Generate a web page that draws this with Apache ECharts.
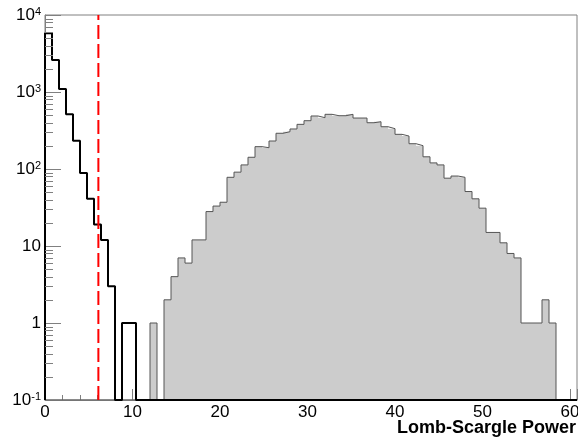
<!DOCTYPE html>
<html><head><meta charset="utf-8">
<script src="https://cdn.jsdelivr.net/npm/echarts@6/dist/echarts.min.js"></script>
<style>html,body{margin:0;padding:0;background:#fff}#c{width:578px;height:438px}</style>
</head><body><div id="c"></div>
<script>
// ---- data ----
const binWidth = 0.8;
const nBins = 76;
const xRange = [0, 60.8];
const yRange = [0.1, 10000];
// noise (black) histogram: bins 0..12, remaining bins empty
const noiseCounts = [5800, 2600, 1090, 513, 233, 89, 41, 19, 12, 3, 0, 1, 1];
// signal (grey) histogram: bins 0..72
const signalCounts = [0,0,0,0,0,0,0,0,0,0,0,0,0,0,0, 1, 0,
  2,4,7,6,12,12,28,33,37,78,
  91,113,142,195,189,231,291,305,331,380,
  424,488,464,513,492,492,513,459,459,399,
  411,354,334,282,268,213,201,144,120,113,
  76,81,78,51,41,31,15,15,11,8,
  7,1,1,1,2,1];
const thresholdX = 6.1;
const xTickValues = [0, 10, 20, 30, 40, 50, 60];
const xTickLabels = ['0', '10', '20', '30', '40', '50', '60'];
const yTickValues = [0.1, 1, 10, 100, 1000, 10000];
const yTickLabels = ['10{s|-1}', '1', '10', '10{s|2}', '10{s|3}', '10{s|4}'];
const yMinorMultipliers = [2, 3, 4, 5, 6, 7, 8, 9];
const xTitle = 'Lomb-Scargle Power';

// ---- helpers ----
const floorV = yRange[0];
function edge(i) { return +(i * binWidth).toFixed(4); }
function stepPoints(counts, n) {
  const pts = [[edge(0), floorV]];
  for (let i = 0; i < n; i++) {
    const c = counts[i] || 0;
    pts.push([edge(i), c > 0 ? c : floorV]);
  }
  pts.push([edge(n), floorV]);
  return pts;
}
const minorTickData = [];
for (let e = -1; e < 4; e++) {
  yMinorMultipliers.forEach(m => minorTickData.push([xRange[0], +(m * Math.pow(10, e)).toPrecision(6)]));
}

const FONT = '"Liberation Sans", Arial, Helvetica, sans-serif';
const AXC = '#808080';

const chart = echarts.init(document.getElementById('c'), null, {renderer: 'canvas'});
chart.setOption({
  animation: false,
  backgroundColor: '#fff',
  grid: {left: 45, right: 1, top: 15, bottom: 38, show: true, borderColor: AXC, borderWidth: 1, outerBoundsMode: 'none', containLabel: false},
  xAxis: [{
    type: 'value', min: xRange[0], max: xRange[1], interval: 10, position: 'bottom',
    axisLine: {show: true, lineStyle: {color: AXC, width: 1}},
    axisTick: {show: true, inside: true, length: 11, lineStyle: {color: AXC, width: 1}},
    splitLine: {show: false},
    axisLabel: {
      show: true, margin: 4, color: '#000', fontSize: 17, fontFamily: FONT,
      showMaxLabel: true,
      formatter: v => { const i = xTickValues.findIndex(t => Math.abs(t - v) < 1e-6); return i >= 0 ? xTickLabels[i] : ''; }
    }
  }, {
    type: 'value', min: xRange[0], max: xRange[1], interval: 2, position: 'bottom', offset: 0,
    axisLine: {show: false},
    axisTick: {show: true, inside: true, length: 5, lineStyle: {color: AXC, width: 1}},
    splitLine: {show: false},
    axisLabel: {show: false}
  }],
  yAxis: {
    type: 'log', logBase: 10, min: yRange[0], max: yRange[1],
    axisLine: {show: true, lineStyle: {color: AXC, width: 1}},
    axisTick: {show: true, inside: true, length: 16, lineStyle: {color: AXC, width: 1}},
    splitLine: {show: false},
    minorTick: {show: false},
    axisLabel: {
      show: true, margin: 4, color: '#000', fontSize: 17, fontFamily: FONT,
      formatter: v => {
        const i = yTickValues.findIndex(t => Math.abs(Math.log10(t) - Math.log10(v)) < 1e-6);
        return i >= 0 ? yTickLabels[i] : '';
      },
      rich: {
        s: {fontSize: 11, fontFamily: FONT, color: '#000', verticalAlign: 'top', lineHeight: 11, padding: [0, 0, 0, 0]}
      }
    }
  },
  series: [
    {
      // grey fill of signal histogram
      type: 'custom', xAxisIndex: 0, z: 1, silent: true,
      data: [[xRange[0], floorV]],
      renderItem: (params, api) => {
        const pts = stepPoints(signalCounts, signalCounts.length);
        const poly = [];
        for (let i = 0; i < pts.length - 1; i++) {
          const a = api.coord(pts[i]);
          const b = api.coord([pts[i + 1][0], pts[i][1]]);
          poly.push(a, b);
        }
        poly.push(api.coord(pts[pts.length - 1]));
        return {type: 'polygon', shape: {points: poly}, style: {fill: '#cccccc', stroke: null}};
      }
    },
    {
      // signal outline
      type: 'line', xAxisIndex: 0, z: 2, step: 'end', symbol: 'none', silent: true,
      data: stepPoints(signalCounts, signalCounts.length),
      lineStyle: {color: '#555555', width: 1}
    },
    {
      // noise histogram (black)
      type: 'line', xAxisIndex: 0, z: 3, step: 'end', symbol: 'none', silent: true, clip: false,
      data: stepPoints(noiseCounts, nBins),
      lineStyle: {color: '#000000', width: 2}
    },
    {
      // threshold line
      type: 'line', xAxisIndex: 0, z: 4, symbol: 'none', silent: true,
      data: [[thresholdX, yRange[0]], [thresholdX, yRange[1]]],
      lineStyle: {color: '#ff0000', width: 2, type: [14, 5]}
    },
    {
      // log minor ticks on the y axis
      type: 'custom', xAxisIndex: 0, z: 5, silent: true,
      data: minorTickData,
      renderItem: (params, api) => {
        const p = api.coord([api.value(0), api.value(1)]);
        const y = Math.round(p[1]) + 0.5;
        return {type: 'line', shape: {x1: p[0], y1: y, x2: p[0] + 8, y2: y}, style: {stroke: AXC, lineWidth: 1}};
      }
    }
  ],
  graphic: [{
    type: 'text', right: 2, top: 419,
    style: {text: xTitle, font: 'bold 18px ' + FONT, fill: '#000'}
  }]
});
</script></body></html>
